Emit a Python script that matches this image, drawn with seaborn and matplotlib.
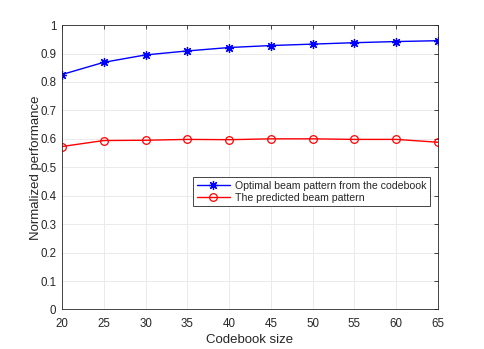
import matplotlib
matplotlib.use("Agg")
import matplotlib.pyplot as plt
import seaborn as sns
import pandas as pd

codebook_size = [20, 25, 30, 35, 40, 45, 50, 55, 60, 65]
optimal = [0.826, 0.869, 0.895, 0.909, 0.921, 0.928, 0.933, 0.938, 0.942, 0.945]
predicted = [0.573, 0.594, 0.595, 0.598, 0.597, 0.600, 0.600, 0.598, 0.598, 0.588]
labels = ["Optimal beam pattern from the codebook", "The predicted beam pattern"]

sns.set_style("whitegrid")
plt.rcParams['font.family'] = ['Liberation Sans', 'DejaVu Sans']

fig = plt.figure(figsize=(4.85, 3.49), dpi=100)
ax = fig.add_axes([0.1278, 0.1132, 0.7753, 0.815])

df1 = pd.DataFrame({"x": codebook_size, "y": optimal})
df2 = pd.DataFrame({"x": codebook_size, "y": predicted})

sns.lineplot(data=df1, x="x", y="y", ax=ax, color="#0000ff", lw=1.0,
             marker=(8, 2, 0), markersize=6.5, markeredgewidth=0.9,
             markeredgecolor="#0000ff", label=labels[0])
sns.lineplot(data=df2, x="x", y="y", ax=ax, color="#ff0000", lw=1.0,
             marker="o", markersize=5.5, markerfacecolor="none",
             markeredgecolor="#ff0000", markeredgewidth=0.9, label=labels[1])

ax.set_xlim(20, 65)
ax.set_ylim(0, 1)
ax.set_xticks(codebook_size)
ax.set_yticks([i / 10 for i in range(11)])
ax.set_yticklabels(["0", "0.1", "0.2", "0.3", "0.4", "0.5", "0.6", "0.7", "0.8", "0.9", "1"])
ax.set_xlabel("Codebook size", fontsize=9.5, color="#262626", labelpad=3)
ax.set_ylabel("Normalized performance", fontsize=9.5, color="#262626", labelpad=-1)
ax.tick_params(axis="both", labelsize=8.3, colors="#262626", direction="in",
               length=3, width=0.6, top=True, right=True)
ax.tick_params(axis="x", pad=6)
ax.tick_params(axis="y", pad=4)
ax.grid(True, color="#e8e8e8", lw=0.6)
for s in ax.spines.values():
    s.set_color("#262626")
    s.set_linewidth(0.6)
    s.set_visible(True)

leg = ax.legend(loc="upper left", bbox_to_anchor=(0.348, 0.466), borderaxespad=0,
                fancybox=False, framealpha=1, edgecolor="#262626", fontsize=7.6,
                handlelength=3.2, handletextpad=0.4, borderpad=0.35, labelspacing=0.2)
leg.get_frame().set_linewidth(0.6)

fig.savefig("out.png", dpi=100)
